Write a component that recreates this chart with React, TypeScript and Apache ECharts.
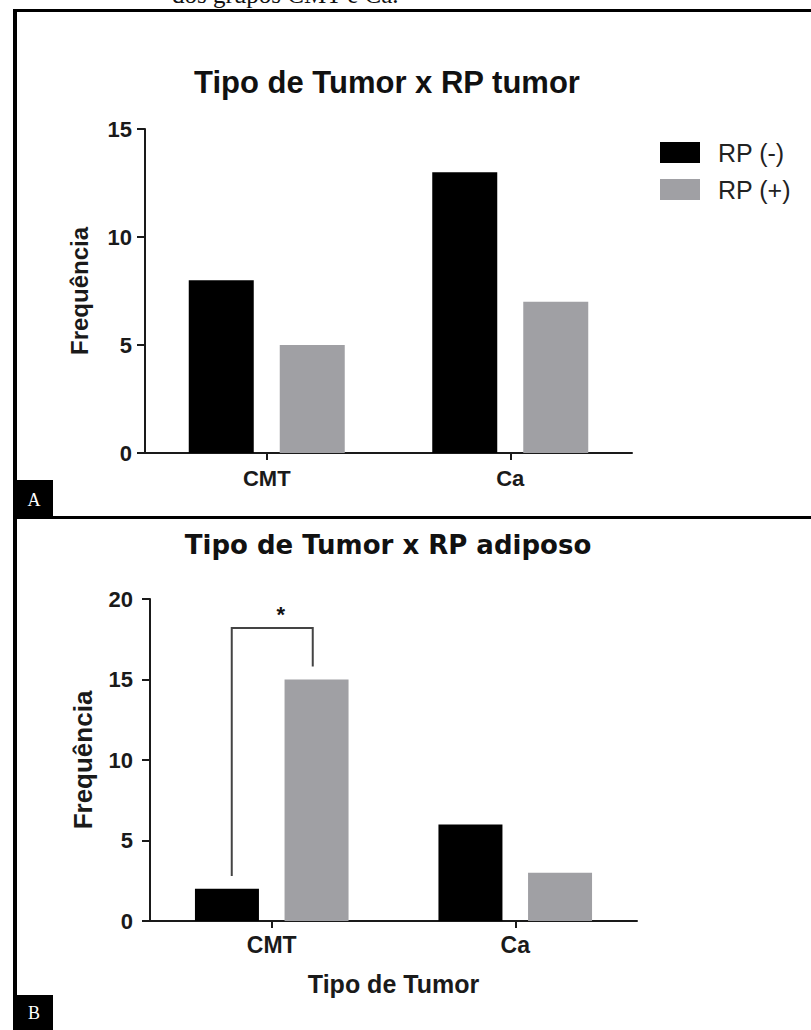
import React, { useEffect, useRef } from "react";
import * as echarts from "echarts";

const categories = ["CMT", "Ca"];
const seriesNames = ["RP (-)", "RP (+)"];
const tumorNeg = [8, 13];
const tumorPos = [5, 7];
const adiposoNeg = [2, 6];
const adiposoPos = [15, 3];
const yScaleA = { min: 0, max: 15, interval: 5 };
const yScaleB = { min: 0, max: 20, interval: 5 };
const titleA = "Tipo de Tumor x RP tumor";
const titleB = "Tipo de Tumor x RP adiposo";
const yName = "Frequência";
const xNameB = "Tipo de Tumor";
const caption = "dos grupos CMT e Ca.";
const panelLabels = ["A", "B"];
const sigBracket = { category: "CMT", top: 18.2, leftBottom: 2.8, rightBottom: 15.8, label: "*" };

const SANS = "'Liberation Sans', Arial, sans-serif";
const INK = "#1a1a1a";
const BLACK = "#000000";
const GRAY = "#a0a0a4";

function xAxisFor(gridIndex: number, extra: any = {}) {
  return {
    type: "category",
    gridIndex,
    data: categories,
    axisLine: { show: true, lineStyle: { color: INK, width: 2 } },
    axisTick: { show: true, alignWithLabel: true, length: 7, lineStyle: { color: INK, width: 2 } },
    axisLabel: { fontSize: 22, fontWeight: "bold", color: INK, fontFamily: SANS, margin: 14 },
    splitLine: { show: false },
    ...extra,
  };
}

function yAxisFor(gridIndex: number, scale: any, extra: any = {}) {
  return {
    type: "value",
    gridIndex,
    min: scale.min,
    max: scale.max,
    interval: scale.interval,
    axisLine: { show: true, lineStyle: { color: INK, width: 2 } },
    axisTick: { show: true, length: 8, lineStyle: { color: INK, width: 2 } },
    axisLabel: { fontSize: 22, fontWeight: "bold", color: INK, fontFamily: SANS, margin: 13 },
    splitLine: { show: false },
    name: yName,
    nameLocation: "middle",
    nameRotate: 90,
    nameTextStyle: { fontSize: 24, fontWeight: "bold", color: INK, fontFamily: SANS },
    ...extra,
  };
}

export default function App() {
  const ref = useRef<HTMLDivElement>(null);
  useEffect(() => {
    if (!ref.current) return;
    const chart = echarts.init(ref.current, null, { renderer: "svg" });
    const option: any = {
      animation: false,
      backgroundColor: "#ffffff",
      grid: [
        { left: 145, width: 487, top: 129, height: 324 },
        { left: 150, width: 487, top: 599, height: 322 },
      ],
      xAxis: [
        xAxisFor(0),
        xAxisFor(1, {
          name: xNameB,
          nameLocation: "middle",
          nameGap: 50,
          nameTextStyle: { fontSize: 25, fontWeight: "bold", color: INK, fontFamily: SANS },
          axisLabel: { fontSize: 23, fontWeight: "bold", color: INK, fontFamily: SANS, margin: 12 },
        }),
      ],
      yAxis: [
        yAxisFor(0, yScaleA, { nameGap: 54 }),
        yAxisFor(1, yScaleB, {
          nameGap: 54,
          nameTextStyle: { fontSize: 26, fontWeight: "bold", color: INK, fontFamily: SANS },
          axisLabel: { fontSize: 22, fontWeight: "bold", color: INK, fontFamily: SANS, margin: 17 },
        }),
      ],
      legend: {
        data: seriesNames,
        orient: "vertical",
        left: 660,
        top: 140,
        padding: 0,
        itemWidth: 40,
        itemHeight: 21,
        itemGap: 12,
        icon: "rect",
        textStyle: { fontSize: 25, color: "#222", fontFamily: SANS, padding: [0, 0, 0, 13] },
      },
      series: [
        { type: "bar", name: seriesNames[0], xAxisIndex: 0, yAxisIndex: 0, data: tumorNeg, barWidth: 65, barGap: "40%", itemStyle: { color: BLACK } },
        { type: "bar", name: seriesNames[1], xAxisIndex: 0, yAxisIndex: 0, data: tumorPos, barWidth: 65, barGap: "40%", itemStyle: { color: GRAY } },
        { type: "bar", name: seriesNames[0], xAxisIndex: 1, yAxisIndex: 1, data: adiposoNeg, barWidth: 64, barGap: "40%", itemStyle: { color: BLACK } },
        { type: "bar", name: seriesNames[1], xAxisIndex: 1, yAxisIndex: 1, data: adiposoPos, barWidth: 64, barGap: "40%", itemStyle: { color: GRAY } },
      ],
    };
    chart.setOption(option);

    const ci = categories.indexOf(sigBracket.category);
    const pTop = chart.convertToPixel({ gridIndex: 1 } as any, [ci, sigBracket.top]) as number[];
    const pL = chart.convertToPixel({ gridIndex: 1 } as any, [ci, sigBracket.leftBottom]) as number[];
    const pR = chart.convertToPixel({ gridIndex: 1 } as any, [ci, sigBracket.rightBottom]) as number[];
    const cx = pTop[0];
    const lx = cx - 40;
    const rx = cx + 41;

    chart.setOption({
      graphic: [
        { type: "text", left: 172, top: -18, style: { text: caption, font: "25px 'Liberation Serif', 'Times New Roman', serif", fill: "#111" }, z: 10 },
        { type: "rect", shape: { x: 13, y: 9, width: 4, height: 1030 }, style: { fill: BLACK }, z: 10 },
        { type: "rect", shape: { x: 13, y: 9, width: 800, height: 3 }, style: { fill: BLACK }, z: 10 },
        { type: "rect", shape: { x: 13, y: 516, width: 800, height: 3 }, style: { fill: BLACK }, z: 10 },
        { type: "rect", shape: { x: 13, y: 480, width: 40, height: 38 }, style: { fill: BLACK }, z: 10 },
        { type: "text", x: 34, y: 500, style: { text: panelLabels[0], font: "18px 'Liberation Serif', serif", fill: "#fff", align: "center", verticalAlign: "middle" }, z: 11 },
        { type: "rect", shape: { x: 13, y: 995, width: 40, height: 40 }, style: { fill: BLACK }, z: 10 },
        { type: "text", x: 34, y: 1013, style: { text: panelLabels[1], font: "18px 'Liberation Serif', serif", fill: "#fff", align: "center", verticalAlign: "middle" }, z: 11 },
        { type: "text", x: 387, y: 82, style: { text: titleA, font: "bold 31px 'Liberation Sans', Arial, sans-serif", fill: "#111", align: "center", verticalAlign: "middle" }, z: 10 },
        { type: "text", x: 388, y: 545, style: { text: titleB, font: "bold 26px 'DejaVu Sans', sans-serif", fill: "#111", align: "center", verticalAlign: "middle" }, z: 10 },
        {
          type: "polyline",
          shape: { points: [[lx, pL[1]], [lx, pTop[1]], [rx, pTop[1]], [rx, pR[1]]] },
          style: { stroke: "#444", lineWidth: 2, fill: "none" },
          z: 10,
        },
        { type: "text", x: cx + 9, y: pTop[1] - 13, style: { text: sigBracket.label, font: "bold 22px 'Liberation Sans', Arial, sans-serif", fill: "#111", align: "center", verticalAlign: "middle" }, z: 10 },
      ],
    });
    return () => chart.dispose();
  }, []);
  return <div ref={ref} style={{ position: "absolute", left: 0, top: 0, width: 811, height: 1030, background: "#fff" }} />;
}
